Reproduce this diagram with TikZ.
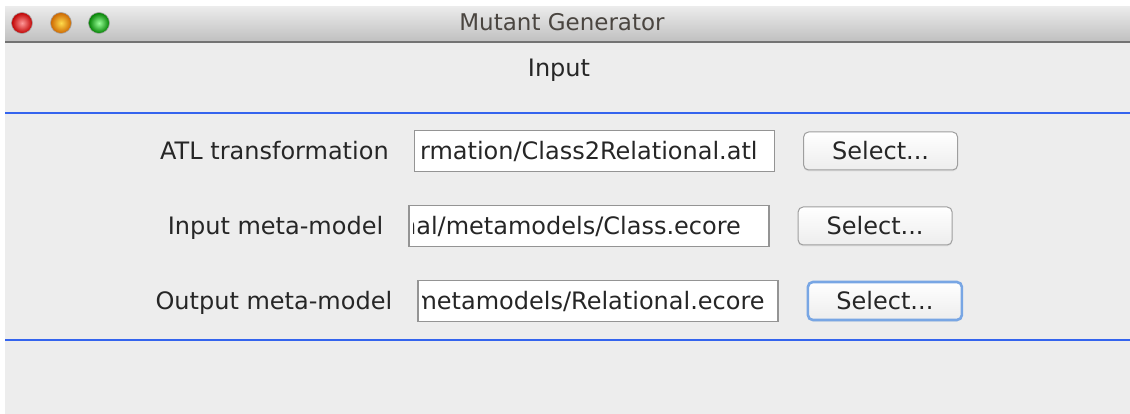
\documentclass[tikz,border=0pt]{standalone}
\usepackage{fontspec}
\setmainfont{DejaVu Sans}
\usetikzlibrary{positioning,shadows}

\definecolor{fundo}{HTML}{EDEDED}
\definecolor{linhaazul}{HTML}{3464EE}
\definecolor{focoazul}{HTML}{78A6E4}
\definecolor{titulo}{HTML}{4A4540}

\tikzset{
    rotulo/.style={font=\fontsize{24}{28}\selectfont, text=black!85, inner sep=0pt,
        text height=17.5pt, text depth=0pt},
    campo/.style={draw=black!42, fill=white, line width=1.2pt, inner sep=0pt,
        minimum width=360pt, minimum height=41pt},
    botao/.style={rotulo, draw=black!38, line width=1pt, rounded corners=5pt,
        top color=white, bottom color=black!7, minimum width=154pt, minimum height=38pt,
        drop shadow={opacity=0.12, shadow xshift=0pt, shadow yshift=-1.5pt}},
    foco/.style={draw=focoazul, line width=2.6pt},
    luz/.style={draw=black!35, line width=0.6pt}
}

\begin{document}
\begin{tikzpicture}[x=1pt, y=-1pt]
    \useasboundingbox (0,0) rectangle (1130,414);
    \fill[white] (0,0) rectangle (1130,414);
    \fill[fundo] (5,7) rectangle (1130,414);

    % barra de titulo
    \shade[top color=black!8, bottom color=black!25] (5,7) rectangle (1130,42);
    \draw[black!55, line width=2pt] (5,42) -- (1130,42);
    \shade[luz, inner color=red!40!white, outer color=red!75!black] (22,23) circle (10.5);
    \shade[luz, inner color=orange!40!yellow!70!white, outer color=orange!80!black] (61,23) circle (10.5);
    \shade[luz, inner color=green!40!white, outer color=green!50!black] (99,23) circle (10.5);
    \node[rotulo, font=\fontsize{23}{28}\selectfont, text=titulo] (janela) at (562,22) {Mutant Generator};

    % cabecalho
    \node[rotulo] (entrada) at (559,68) {Input};
    \draw[linhaazul, line width=2pt] (5,113) -- (1130,113);

    % linha 1
    \node[campo] (fld1) at (594.5,151) {};
    \node[rotulo, left=25pt of fld1] (lbl1) {ATL transformation};
    \node[botao, right=28pt of fld1] (btn1) {Select...};

    % linha 2
    \node[campo] (fld2) at (589,226) {};
    \node[rotulo, left=25pt of fld2] (lbl2) {Input meta-model};
    \node[botao, right=28pt of fld2] (btn2) {Select...};

    % linha 3
    \node[campo] (fld3) at (598,301) {};
    \node[rotulo, left=25pt of fld3] (lbl3) {Output meta-model};
    \node[botao, foco, right=28pt of fld3] (btn3) {Select...};

    % textos dos campos (cortados na borda)
    \begin{scope}
        \clip ([xshift=5pt]fld1.south west) rectangle ([xshift=-2pt]fld1.north east);
        \node[rotulo, anchor=west, xshift=6pt] (txt1) at (fld1.west) {rmation/Class2Relational.atl};
    \end{scope}
    \begin{scope}
        \clip ([xshift=5pt]fld2.south west) rectangle ([xshift=-2pt]fld2.north east);
        \node[rotulo, anchor=west, xshift=-7.5pt] (txt2) at (fld2.west) {nal/metamodels/Class.ecore};
    \end{scope}
    \begin{scope}
        \clip ([xshift=5pt]fld3.south west) rectangle ([xshift=-2pt]fld3.north east);
        \node[rotulo, anchor=west, xshift=-4pt] (txt3) at (fld3.west) {metamodels/Relational.ecore};
    \end{scope}

    \draw[linhaazul, line width=2pt] (5,340) -- (1130,340);
\end{tikzpicture}
\end{document}
